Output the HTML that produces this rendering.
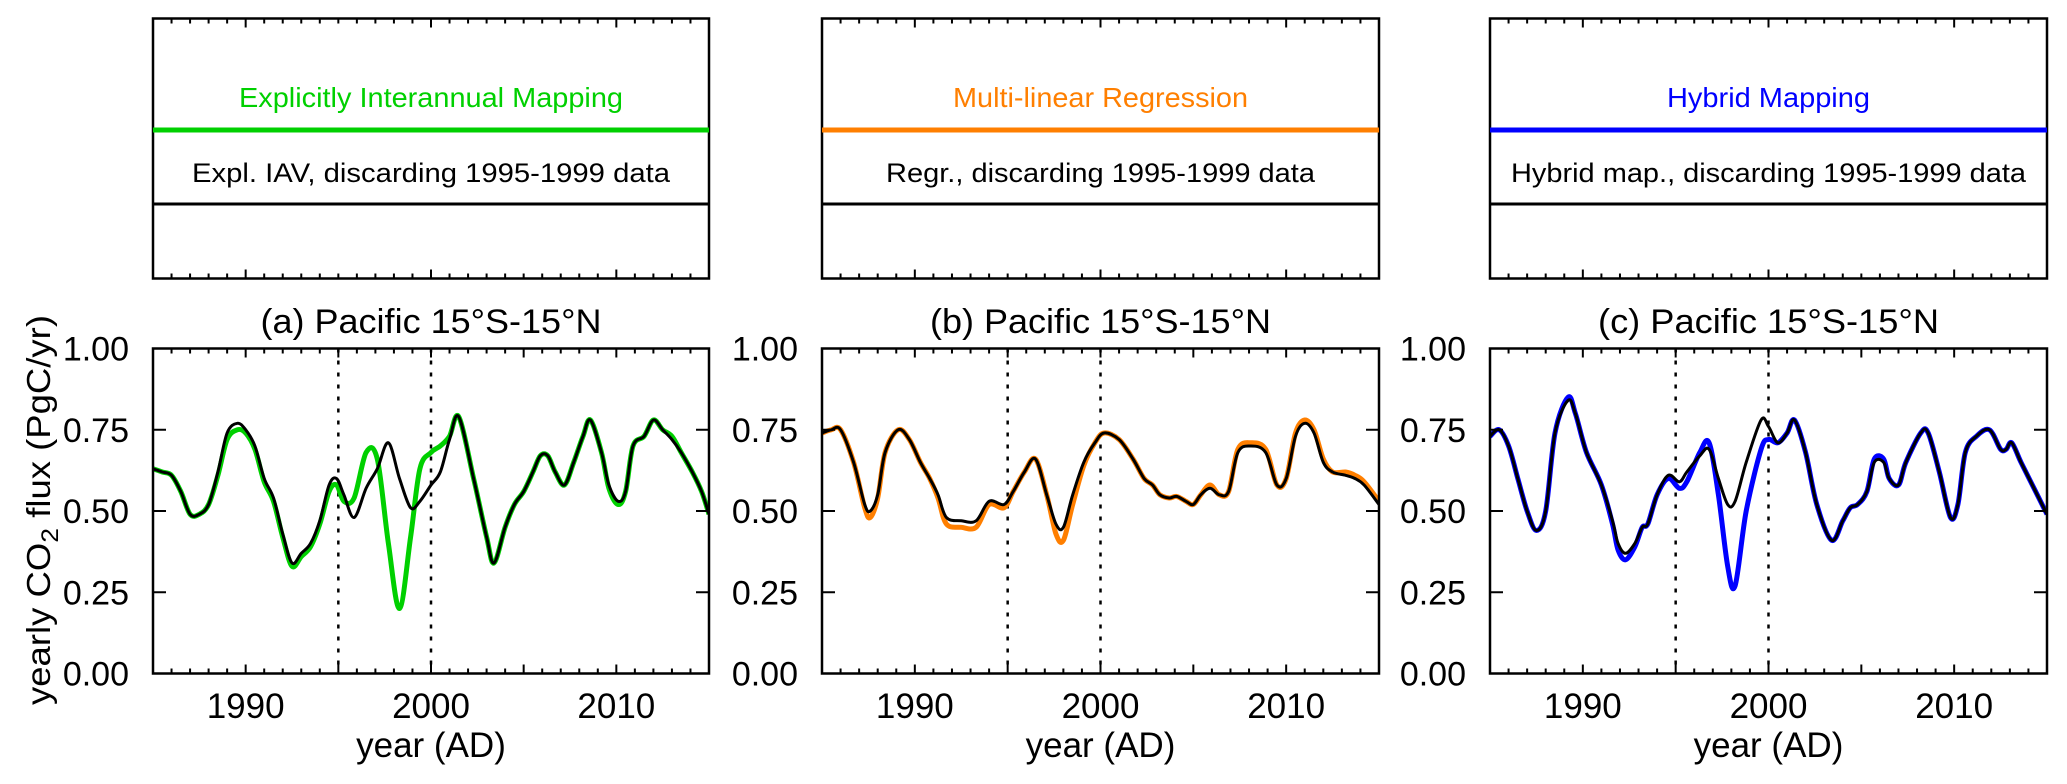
<!DOCTYPE html>
<html><head><meta charset="utf-8"><style>
html,body{margin:0;padding:0;background:#fff;}
svg{display:block;font-family:"Liberation Sans",sans-serif;}
</style></head><body>
<svg id="fig" width="2067" height="784" viewBox="0 0 2067 784" xmlns="http://www.w3.org/2000/svg">
<text transform="translate(50,510) rotate(-90)" text-anchor="middle" font-size="33" textLength="390" lengthAdjust="spacingAndGlyphs">yearly CO<tspan font-size="24" dy="8">2</tspan><tspan dy="-8"> flux (PgC/yr)</tspan></text>
</svg>
<script>
// ---- data ----
const yearsA = [1985,1985.5,1986,1986.5,1987,1987.5,1988,1988.5,1989,1989.55,1990,1990.5,1991,1991.5,1992,1992.5,1993,1993.5,1994,1994.5,1994.9,1995.3,1995.85,1996.5,1997.1,1997.7,1998.3,1998.9,1999.4,2000,2000.5,2001,2001.5,2002.3,2003,2003.4,2004,2004.5,2005,2005.5,2005.9,2006.3,2006.7,2007.2,2007.7,2008.2,2008.6,2009.2,2009.6,2010.1,2010.5,2010.9,2011.5,2012,2012.5,2013,2013.5,2014.1,2014.6,2015];
const blackA = [0.63,0.62,0.61,0.56,0.49,0.49,0.52,0.62,0.74,0.77,0.75,0.70,0.60,0.54,0.43,0.34,0.37,0.40,0.47,0.58,0.60,0.55,0.48,0.57,0.63,0.71,0.60,0.51,0.53,0.58,0.62,0.72,0.79,0.60,0.42,0.34,0.45,0.52,0.56,0.62,0.67,0.67,0.62,0.58,0.65,0.73,0.78,0.68,0.58,0.53,0.56,0.70,0.73,0.78,0.75,0.72,0.68,0.62,0.56,0.49];
const greenA = [0.63,0.62,0.61,0.56,0.49,0.49,0.52,0.61,0.72,0.75,0.74,0.69,0.59,0.53,0.42,0.33,0.36,0.39,0.46,0.56,0.58,0.53,0.54,0.68,0.66,0.40,0.20,0.42,0.63,0.68,0.70,0.73,0.79,0.60,0.42,0.34,0.45,0.52,0.56,0.62,0.67,0.67,0.62,0.58,0.65,0.73,0.78,0.68,0.57,0.52,0.56,0.70,0.73,0.78,0.75,0.73,0.68,0.62,0.56,0.49];
const yearsB = [1985,1985.5,1986,1986.7,1987.3,1987.6,1988,1988.4,1989.1,1989.7,1990.3,1990.8,1991.25,1991.7,1992.5,1993.3,1994,1994.8,1995.3,1995.9,1996.5,1997.1,1997.6,1998,1998.5,1999.1,1999.7,2000.2,2001,2001.75,2002.35,2002.8,2003.2,2003.7,2004.1,2004.6,2005,2005.4,2005.9,2006.4,2006.9,2007.4,2008.1,2008.9,2009.5,2010,2010.5,2011,2011.5,2012,2012.5,2013.2,2013.7,2014.2,2015];
const blackB = [0.74,0.75,0.75,0.65,0.52,0.50,0.55,0.68,0.75,0.72,0.65,0.60,0.55,0.48,0.47,0.47,0.53,0.52,0.56,0.62,0.66,0.55,0.46,0.45,0.55,0.65,0.71,0.74,0.72,0.66,0.60,0.58,0.55,0.54,0.545,0.53,0.52,0.55,0.57,0.55,0.56,0.68,0.70,0.68,0.58,0.60,0.73,0.77,0.74,0.65,0.62,0.61,0.60,0.58,0.52];
const orangeB = [0.74,0.75,0.75,0.65,0.51,0.48,0.54,0.68,0.75,0.72,0.65,0.60,0.54,0.46,0.45,0.45,0.52,0.51,0.56,0.62,0.66,0.55,0.43,0.41,0.52,0.64,0.71,0.74,0.72,0.66,0.60,0.58,0.55,0.54,0.545,0.53,0.52,0.55,0.58,0.55,0.56,0.69,0.71,0.69,0.58,0.60,0.74,0.78,0.75,0.66,0.62,0.62,0.61,0.59,0.53];
const yearsC = [1985,1985.5,1986,1986.5,1987,1987.5,1988,1988.5,1989.2,1989.6,1990.2,1991,1991.6,1991.9,1992.3,1992.8,1993.2,1993.5,1994,1994.6,1995.2,1995.6,1996.3,1996.8,1997.3,1997.8,1998.2,1998.8,1999.6,2000,2000.5,2001,2001.4,2002,2002.6,2003.4,2004,2004.4,2004.8,2005.3,2005.7,2006.2,2006.5,2007,2007.4,2008.2,2008.6,2009.2,2009.8,2010.2,2010.6,2011.2,2011.9,2012.5,2012.8,2013.1,2013.6,2014.3,2015];
const blackC = [0.73,0.75,0.70,0.60,0.50,0.44,0.50,0.74,0.84,0.80,0.68,0.58,0.47,0.40,0.37,0.40,0.45,0.46,0.55,0.61,0.59,0.62,0.67,0.69,0.60,0.52,0.53,0.65,0.78,0.76,0.71,0.74,0.78,0.68,0.52,0.41,0.47,0.51,0.52,0.56,0.65,0.65,0.60,0.58,0.65,0.74,0.74,0.62,0.48,0.52,0.68,0.73,0.75,0.69,0.69,0.71,0.65,0.57,0.49];
const blueC  = [0.73,0.75,0.70,0.60,0.50,0.44,0.50,0.74,0.85,0.80,0.68,0.58,0.46,0.38,0.35,0.39,0.45,0.46,0.55,0.60,0.57,0.59,0.68,0.71,0.55,0.33,0.27,0.50,0.69,0.72,0.71,0.74,0.78,0.68,0.52,0.41,0.47,0.51,0.52,0.56,0.66,0.66,0.60,0.58,0.65,0.74,0.74,0.62,0.48,0.52,0.68,0.73,0.75,0.69,0.69,0.71,0.65,0.57,0.49];
const yTicks = [0,0.25,0.5,0.75,1];
const yTickLabels = ["0.00","0.25","0.50","0.75","1.00"];
const xTickLabels = [1990,2000,2010];
const dashYears = [1995,2000];

const NS="http://www.w3.org/2000/svg";
const svg=document.getElementById('fig');
function mk(tag,attrs,parent){const e=document.createElementNS(NS,tag);for(const k in attrs)e.setAttribute(k,attrs[k]);(parent||svg).appendChild(e);return e;}

const panels=[
 {id:'a',x0:153,x1:709,col:'#00d000',years:yearsA,main:greenA,blk:blackA,t1:'Explicitly Interannual Mapping',w1:384,t2:'Expl. IAV, discarding 1995-1999 data',w2:478},
 {id:'b',x0:822,x1:1379,col:'#ff7f00',years:yearsB,main:orangeB,blk:blackB,t1:'Multi-linear Regression',w1:295,t2:'Regr., discarding 1995-1999 data',w2:429},
 {id:'c',x0:1490,x1:2047,col:'#0000ff',years:yearsC,main:blueC,blk:blackC,t1:'Hybrid Mapping',w1:203,t2:'Hybrid map., discarding 1995-1999 data',w2:515}
];
const PT=348.5,PB=673.5,LT=18.5,LB=278.5;

function smooth(pts){
 let d='M'+pts[0][0].toFixed(1)+','+pts[0][1].toFixed(1);
 for(let i=0;i<pts.length-1;i++){
  const p0=pts[Math.max(0,i-1)],p1=pts[i],p2=pts[i+1],p3=pts[Math.min(pts.length-1,i+2)];
  const c1=[p1[0]+(p2[0]-p0[0])/6,p1[1]+(p2[1]-p0[1])/6];
  const c2=[p2[0]-(p3[0]-p1[0])/6,p2[1]-(p3[1]-p1[1])/6];
  d+=' C'+c1[0].toFixed(1)+','+c1[1].toFixed(1)+' '+c2[0].toFixed(1)+','+c2[1].toFixed(1)+' '+p2[0].toFixed(1)+','+p2[1].toFixed(1);
 }
 return d;
}

panels.forEach(p=>{
 const xs=yr=>p.x0+(yr-1985)/30*(p.x1-p.x0);
 const ys=v=>PB-v*(PB-PT);
 const cx=(p.x0+p.x1)/2;
 // legend box
 const lg=mk('g',{});
 
 
 const lbox=mk('rect',{x:p.x0,y:LT,width:p.x1-p.x0,height:LB-LT,fill:'none',stroke:'#000','stroke-width':2.5},lg);
 
 
 for(let yr=1986;yr<2015;yr++){
  const L=(yr%10==0)?9:5;
  mk('line',{x1:xs(yr),x2:xs(yr),y1:LT,y2:LT+L,stroke:'#000','stroke-width':2},lg);
  mk('line',{x1:xs(yr),x2:xs(yr),y1:LB,y2:LB-L,stroke:'#000','stroke-width':2},lg);
 }
 const ll1=mk('line',{x1:p.x0,x2:p.x1,y1:130,y2:130,stroke:p.col,'stroke-width':5},lg);
 
 
 const ll2=mk('line',{x1:p.x0,x2:p.x1,y1:204,y2:204,stroke:'#000','stroke-width':3},lg);
 
 
 const lt1=mk('text',{x:cx,y:107,'text-anchor':'middle','font-size':28,fill:p.col,textLength:p.w1,lengthAdjust:'spacingAndGlyphs'},lg);
 lt1.textContent=p.t1;
 
 
 const lt2=mk('text',{x:cx,y:182,'text-anchor':'middle','font-size':27,fill:'#000',textLength:p.w2,lengthAdjust:'spacingAndGlyphs'},lg);
 lt2.textContent=p.t2;
 
 

 // plot
 const g=mk('g',{});
 
 
 const tt=mk('text',{x:cx,y:333,'text-anchor':'middle','font-size':34,textLength:341,lengthAdjust:'spacingAndGlyphs'},g);
 tt.textContent='('+p.id+') Pacific 15°S-15°N';
 
 
 // dotted lines
 dashYears.forEach(dy=>{
  const dl=mk('line',{x1:xs(dy),x2:xs(dy),y1:PT,y2:PB,stroke:'#000','stroke-width':2.5,'stroke-dasharray':'4,8'},g);
  
  
 });
 const cp='clip'+p.id;
 const cl=mk('clipPath',{id:cp},g);
 mk('rect',{x:p.x0,y:PT,width:p.x1-p.x0,height:PB-PT},cl);
 const mpts=p.years.map((yr,i)=>[xs(yr),ys(p.main[i])]);
 const bpts=p.years.map((yr,i)=>[xs(yr),ys(p.blk[i])]);
 const s1=mk('path',{d:smooth(mpts),fill:'none',stroke:p.col,'stroke-width':5,'stroke-linejoin':'round','clip-path':'url(#'+cp+')'},g);
 
 
 const s2=mk('path',{d:smooth(bpts),fill:'none',stroke:'#000','stroke-width':3,'stroke-linejoin':'round','clip-path':'url(#'+cp+')'},g);
 
 
 const fr=mk('rect',{x:p.x0,y:PT,width:p.x1-p.x0,height:PB-PT,fill:'none',stroke:'#000','stroke-width':2.5},g);
 
 
 for(let yr=1986;yr<2015;yr++){
  const L=(yr%5==0)?9:5;
  mk('line',{x1:xs(yr),x2:xs(yr),y1:PT,y2:PT+L,stroke:'#000','stroke-width':2},g);
  mk('line',{x1:xs(yr),x2:xs(yr),y1:PB,y2:PB-L,stroke:'#000','stroke-width':2},g);
 }
 yTicks.forEach((v,i)=>{
  mk('line',{x1:p.x0,x2:p.x0+13,y1:ys(v),y2:ys(v),stroke:'#000','stroke-width':2},g);
  mk('line',{x1:p.x1,x2:p.x1-13,y1:ys(v),y2:ys(v),stroke:'#000','stroke-width':2},g);
  const t=mk('text',{x:p.x0-24,y:ys(v)+12,'text-anchor':'end','font-size':34},g);
  t.textContent=yTickLabels[i];
  
  
 });
 xTickLabels.forEach(yr=>{
  const t=mk('text',{x:xs(yr),y:718,'text-anchor':'middle','font-size':35},g);
  t.textContent=yr;
  
  
 });
 const xt=mk('text',{x:cx,y:757,'text-anchor':'middle','font-size':35},g);
 xt.textContent='year (AD)';
 
 
});
</script>
</body></html>
